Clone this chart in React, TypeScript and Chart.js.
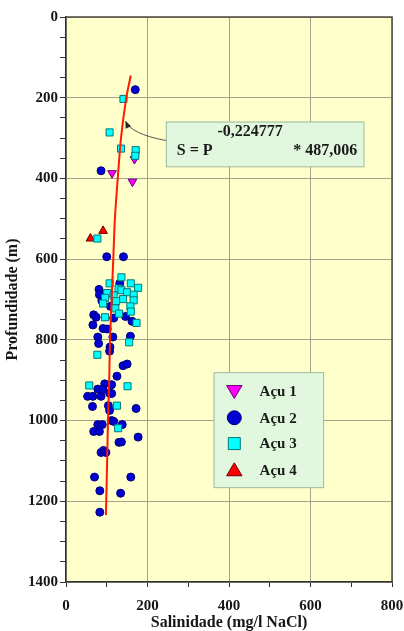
import React, { useEffect, useRef } from "react";
import { Chart, registerables } from "chart.js";
Chart.register(...registerables);

// ---------- data ----------
const xTickLabels = ["0", "200", "400", "600", "800"];
const yTickLabels = ["0", "200", "400", "600", "800", "1000", "1200", "1400"];

const seriesNames = ["Açu 1", "Açu 2", "Açu 3", "Açu 4"];

// Açu 1 (magenta, inverted triangles)
const acu1Sal = [113, 163, 168];
const acu1Depth = [387, 408, 352];

// Açu 2 (blue circles)
const acu2Sal = [170, 86, 100, 141, 132, 81, 82, 88, 109, 68, 74, 146, 117, 162, 66, 91, 101, 78, 115, 158, 80, 108, 107, 140, 150, 125, 95, 112, 78, 91, 107, 53, 66, 86, 112, 65, 104, 107, 172, 78, 89, 112, 117, 138, 68, 82, 177, 130, 136, 86, 92, 98, 70, 159, 83, 134, 83];
const acu2Depth = [180, 381, 594, 594, 660, 675, 688, 703, 717, 738, 744, 742, 746, 754, 763, 772, 773, 793, 793, 791, 809, 818, 828, 864, 860, 890, 909, 911, 922, 923, 932, 940, 940, 940, 933, 965, 963, 975, 970, 1010, 1010, 1000, 1002, 1010, 1027, 1027, 1041, 1054, 1053, 1079, 1074, 1079, 1140, 1140, 1174, 1180, 1227];

// Açu 3 (cyan squares)
const acu3Sal = [141, 107, 135, 171, 170, 77, 136, 107, 159, 177, 129, 101, 136, 150, 117, 166, 96, 140, 123, 166, 91, 158, 121, 159, 130, 96, 173, 155, 77, 57, 151, 125, 128];
const acu3Depth = [203, 286, 326, 330, 344, 549, 645, 660, 660, 671, 673, 684, 677, 682, 690, 688, 696, 699, 704, 702, 710, 717, 722, 730, 735, 744, 758, 806, 837, 913, 915, 963, 1019];

// Açu 4 (red triangles)
const acu4Sal = [60, 91];
const acu4Depth = [549, 530];

// fitted curve S = P^-0,224777 * 487,006
const curveDepth = [145, 200, 300, 400, 500, 600, 700, 800, 900, 1000, 1100, 1234];
const curveSal = [159, 148, 135, 127, 120, 116, 112, 108, 106, 103, 101, 98];

const equationExponent = "-0,224777";
const equationLeft = "S = P";
const equationRight = "* 487,006";

// ---------- helpers ----------
const FONT = "'Liberation Serif', 'Times New Roman', serif";
const pts = (xs: number[], ys: number[]) => xs.map((x, i) => ({ x, y: ys[i] }));

const COLORS = {
  a1: { fill: "#ff00ff", border: "#66006e" },
  a2: { fill: "#0000d0", border: "#00007a" },
  a3: { fill: "#00ffff", border: "#007878" },
  a4: { fill: "#ff0000", border: "#6a0000" },
};

function drawMarker(ctx: CanvasRenderingContext2D, kind: string, x: number, y: number, r: number, fill: string, stroke: string) {
  ctx.save();
  ctx.beginPath();
  if (kind === "circle") {
    ctx.arc(x, y, r, 0, Math.PI * 2);
  } else if (kind === "square") {
    ctx.rect(x - r, y - r, 2 * r, 2 * r);
  } else if (kind === "tri") {
    ctx.moveTo(x, y - r);
    ctx.lineTo(x + r * 1.1, y + r * 0.85);
    ctx.lineTo(x - r * 1.1, y + r * 0.85);
    ctx.closePath();
  } else if (kind === "triDown") {
    ctx.moveTo(x, y + r);
    ctx.lineTo(x + r * 1.1, y - r * 0.85);
    ctx.lineTo(x - r * 1.1, y - r * 0.85);
    ctx.closePath();
  }
  ctx.fillStyle = fill;
  ctx.fill();
  ctx.lineWidth = 1;
  ctx.strokeStyle = stroke;
  ctx.stroke();
  ctx.restore();
}

// annotation / legend placement in data units
const ANNOT_BOX = { x0: 245, x1: 730, y0: 259, y1: 370 };
const ARROW = { sx: 245, sy: 306, cx: 160, cy: 290, ex: 146, ey: 258 };
const LEGEND_BOX = { x0: 362, x1: 631, y0: 880, y1: 1165 };
const LEGEND_ROWS = [928, 993, 1057, 1122];
const LEGEND_MARK_X = 413;
const LEGEND_TEXT_X = 475;

const decorPlugin = {
  id: "decor",
  beforeDraw(chart: any) {
    const { ctx, chartArea: a } = chart;
    ctx.save();
    ctx.fillStyle = "#ffffcc";
    ctx.fillRect(a.left, a.top, a.right - a.left, a.bottom - a.top);
    ctx.restore();
  },
  afterDraw(chart: any) {
    const { ctx, chartArea: a } = chart;
    const xs = chart.scales.x;
    const ys = chart.scales.y;
    const X = (v: number) => xs.getPixelForValue(v);
    const Y = (v: number) => ys.getPixelForValue(v);

    // frame top / right
    ctx.save();
    ctx.strokeStyle = "#4a4a40";
    ctx.lineWidth = 1.5;
    ctx.beginPath();
    ctx.moveTo(a.left, a.top);
    ctx.lineTo(a.right, a.top);
    ctx.lineTo(a.right, a.bottom);
    ctx.stroke();
    ctx.restore();

    // equation box
    ctx.save();
    const bx0 = X(ANNOT_BOX.x0), bx1 = X(ANNOT_BOX.x1), by0 = Y(ANNOT_BOX.y0), by1 = Y(ANNOT_BOX.y1);
    ctx.fillStyle = "#e1f8df";
    ctx.strokeStyle = "#9fb89d";
    ctx.lineWidth = 1;
    ctx.fillRect(bx0, by0, bx1 - bx0, by1 - by0);
    ctx.strokeRect(bx0 + 0.5, by0 + 0.5, bx1 - bx0, by1 - by0);
    ctx.fillStyle = "#1a1a1a";
    ctx.font = `bold 16px ${FONT}`;
    ctx.textBaseline = "middle";
    ctx.textAlign = "center";
    ctx.fillText(equationExponent, X(452), Y(284));
    ctx.textAlign = "left";
    ctx.fillText(equationLeft, X(272), Y(331));
    ctx.textAlign = "right";
    ctx.fillText(equationRight, X(715), Y(331));

    // arrow
    const sx = X(ARROW.sx), sy = Y(ARROW.sy), cx = X(ARROW.cx), cy = Y(ARROW.cy), ex = X(ARROW.ex), ey = Y(ARROW.ey);
    ctx.strokeStyle = "#555555";
    ctx.lineWidth = 1;
    ctx.beginPath();
    ctx.moveTo(sx, sy);
    ctx.quadraticCurveTo(cx, cy, ex, ey);
    ctx.stroke();
    const ang = Math.atan2(ey - cy, ex - cx);
    const L = 7, W = 3;
    ctx.fillStyle = "#222222";
    ctx.beginPath();
    ctx.moveTo(ex, ey);
    ctx.lineTo(ex - L * Math.cos(ang) + W * Math.sin(ang), ey - L * Math.sin(ang) - W * Math.cos(ang));
    ctx.lineTo(ex - L * Math.cos(ang) - W * Math.sin(ang), ey - L * Math.sin(ang) + W * Math.cos(ang));
    ctx.closePath();
    ctx.fill();
    ctx.restore();

    // legend
    ctx.save();
    const lx0 = X(LEGEND_BOX.x0), lx1 = X(LEGEND_BOX.x1), ly0 = Y(LEGEND_BOX.y0), ly1 = Y(LEGEND_BOX.y1);
    ctx.fillStyle = "#e1f8df";
    ctx.strokeStyle = "#9fb89d";
    ctx.lineWidth = 1;
    ctx.fillRect(lx0, ly0, lx1 - lx0, ly1 - ly0);
    ctx.strokeRect(lx0 + 0.5, ly0 + 0.5, lx1 - lx0, ly1 - ly0);
    const kinds = ["triDown", "circle", "square", "tri"];
    const cols = [COLORS.a1, COLORS.a2, COLORS.a3, COLORS.a4];
    const sizes = [7, 7, 6, 7];
    LEGEND_ROWS.forEach((row, i) => {
      drawMarker(ctx, kinds[i], X(LEGEND_MARK_X), Y(row), sizes[i], cols[i].fill, cols[i].border);
      ctx.fillStyle = "#1a1a1a";
      ctx.font = `bold 15px ${FONT}`;
      ctx.textAlign = "left";
      ctx.textBaseline = "middle";
      ctx.fillText(seriesNames[i], X(LEGEND_TEXT_X), Y(row) + 1);
    });
    ctx.restore();
  },
};

export default function App() {
  const ref = useRef<HTMLCanvasElement | null>(null);

  useEffect(() => {
    if (!ref.current) return;
    const gridColor = (c: any) =>
      c.tick && c.tick.value % 200 === 0 ? "#a4a48c" : "rgba(0,0,0,0)";

    const chart = new Chart(ref.current, {
      type: "scatter",
      data: {
        datasets: [
          {
            label: "curve",
            data: pts(curveSal, curveDepth),
            showLine: true,
            borderColor: "#ff1a00",
            borderWidth: 2,
            pointRadius: 0,
            tension: 0.3,
            order: 0,
          } as any,
          {
            label: seriesNames[2],
            data: pts(acu3Sal, acu3Depth),
            pointStyle: "rect",
            pointRadius: 5,
            backgroundColor: COLORS.a3.fill,
            borderColor: COLORS.a3.border,
            borderWidth: 1,
            order: 1,
          },
          {
            label: seriesNames[0],
            data: pts(acu1Sal, acu1Depth),
            pointStyle: "triangle",
            pointRotation: 180,
            pointRadius: 5,
            backgroundColor: COLORS.a1.fill,
            borderColor: COLORS.a1.border,
            borderWidth: 1,
            order: 2,
          } as any,
          {
            label: seriesNames[3],
            data: pts(acu4Sal, acu4Depth),
            pointStyle: "triangle",
            pointRadius: 5,
            backgroundColor: COLORS.a4.fill,
            borderColor: COLORS.a4.border,
            borderWidth: 1,
            order: 3,
          },
          {
            label: seriesNames[1],
            data: pts(acu2Sal, acu2Depth),
            pointStyle: "circle",
            pointRadius: 4,
            backgroundColor: COLORS.a2.fill,
            borderColor: COLORS.a2.border,
            borderWidth: 1,
            order: 4,
          },
        ],
      },
      options: {
        responsive: false,
        animation: false,
        layout: { padding: { left: 0, right: 12, top: 17, bottom: 0 } },
        plugins: { legend: { display: false }, tooltip: { enabled: false } },
        scales: {
          x: {
            type: "linear",
            min: 0,
            max: 800,
            afterFit: (s: any) => {
              s.height = 49;
              s.paddingRight = 0;
              s.paddingLeft = 0;
            },
            ticks: {
              stepSize: 100,
              autoSkip: false,
              maxRotation: 0,
              padding: 10,
              color: "#161616",
              font: { family: FONT, size: 15, weight: "bold" },
              callback: (v: any) => (Number(v) % 200 === 0 ? xTickLabels[Number(v) / 200] : ""),
            },
            grid: { color: gridColor, tickColor: "#333333", tickLength: 5, lineWidth: 1 },
            border: { display: true, color: "#333333", width: 1.5 },
            title: {
              display: true,
              text: "Salinidade (mg/l NaCl)",
              color: "#161616",
              font: { family: FONT, size: 16, weight: "bold", lineHeight: 1 },
              padding: { top: 0, bottom: 0 },
            },
          },
          y: {
            type: "linear",
            reverse: true,
            min: 0,
            max: 1400,
            afterFit: (s: any) => { s.width = 66; },
            ticks: {
              stepSize: 50,
              autoSkip: false,
              padding: 2,
              color: "#161616",
              font: { family: FONT, size: 15, weight: "bold" },
              callback: (v: any) => (Number(v) % 200 === 0 ? yTickLabels[Number(v) / 200] : ""),
            },
            grid: { color: gridColor, tickColor: "#333333", tickLength: 6, lineWidth: 1 },
            border: { display: true, color: "#333333", width: 1.5 },
            title: {
              display: true,
              text: "Profundidade (m)",
              color: "#161616",
              font: { family: FONT, size: 16, weight: "bold", lineHeight: 1 },
              padding: { top: 5, bottom: 0 },
            },
          },
        },
      } as any,
      plugins: [decorPlugin],
    });
    return () => chart.destroy();
  }, []);

  return (
    <div style={{ position: "absolute", left: 0, top: 0, width: 404, height: 631, background: "#ffffff" }}>
      <canvas ref={ref} width={404} height={631} style={{ display: "block" }} />
    </div>
  );
}
